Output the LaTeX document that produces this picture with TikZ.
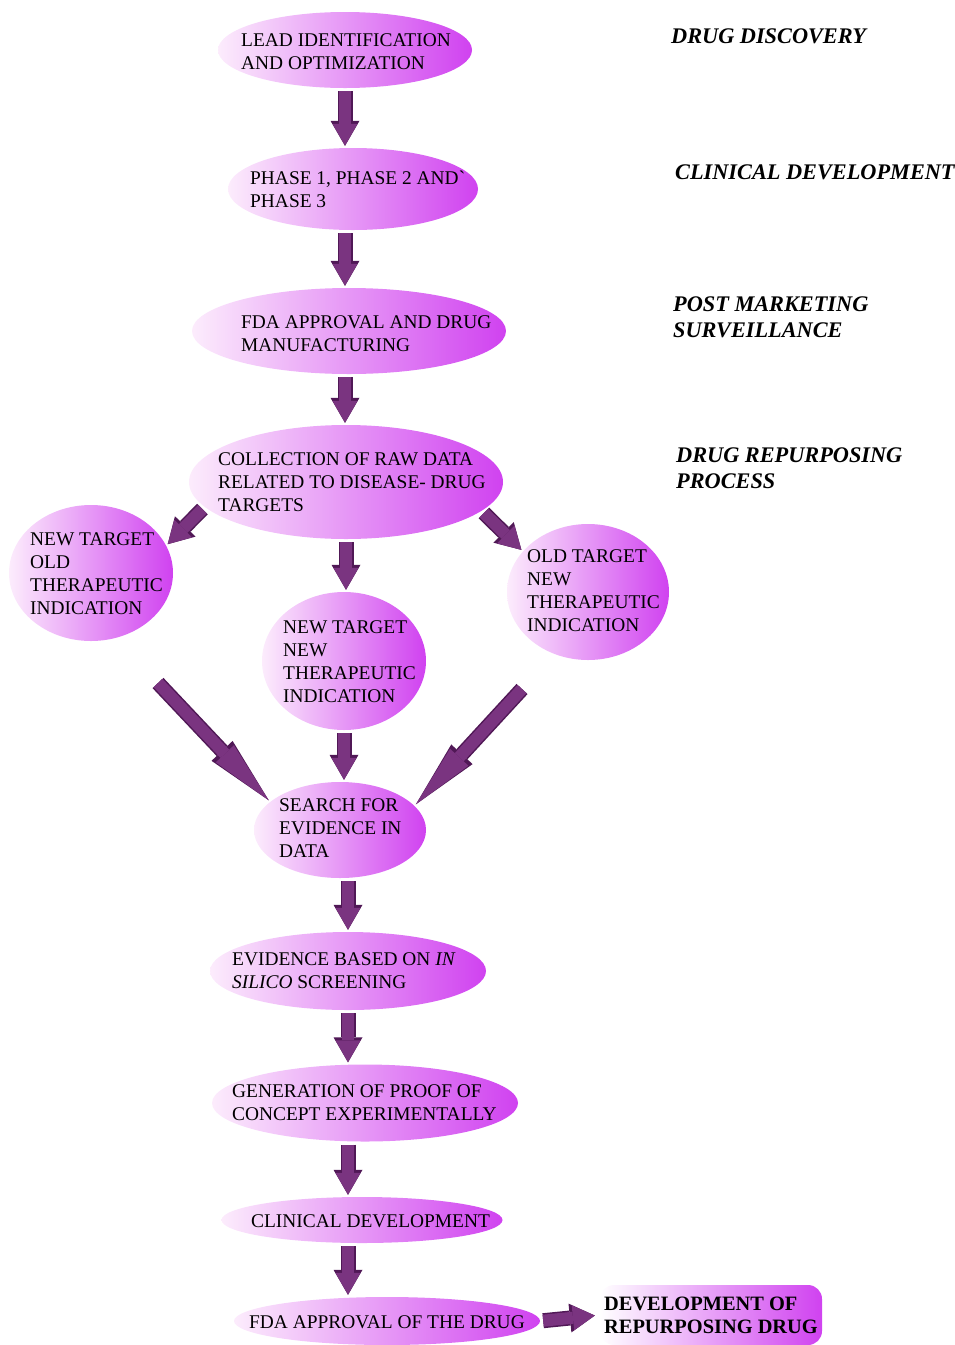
\documentclass[tikz,border=0pt]{standalone}
\usepackage{fontspec}
\setmainfont{Liberation Serif}
\usetikzlibrary{arrows.meta,shapes.geometric}
\definecolor{ovL}{RGB}{252,236,252}
\definecolor{ovR}{RGB}{208,66,240}
\definecolor{arF}{RGB}{122,52,128}
\definecolor{arD}{RGB}{80,24,86}
\begin{document}
\begin{tikzpicture}[x=1pt,y=-1pt,
  oval/.style={ellipse, inner sep=0pt, left color=ovL, right color=ovR, draw=none},
  txt/.style={anchor=west, align=left, inner sep=0pt, font=\fontsize{19.4}{23}\selectfont},
  side/.style={anchor=west, align=left, inner sep=0pt, font=\fontsize{22.3}{26}\selectfont\bfseries\itshape},
  rbox/.style={rectangle, rounded corners=14pt, left color=white, right color=ovR, draw=none,
    minimum width=222pt, minimum height=60pt, inner xsep=3pt, align=left,
    font=\fontsize{20.4}{23}\selectfont\bfseries},
  barrow/.style={line width=12pt, draw=arF, shorten <=3pt, shorten >=2pt,
    -{Triangle[width=25pt,length=22pt,line width=0pt,fill=arF]},
    preaction={draw=arD, line width=15pt, -{Triangle[width=29pt,length=25pt,line width=0pt,fill=arD]}}},
  bigarrow/.style={line width=12pt, draw=arF, shorten <=0pt, shorten >=2pt,
    -{Triangle[width=25pt,length=64pt,line width=0pt,fill=arF]},
    preaction={draw=arD, line width=15pt, -{Triangle[width=29pt,length=68pt,line width=0pt,fill=arD]}}}
]
\useasboundingbox (0,0) rectangle (954,1345);

% ellipses
\node[oval, minimum width=254pt, minimum height=76pt] (lead) at (345,50) {};
\node[oval, minimum width=250pt, minimum height=82pt] (phase) at (353,189) {};
\node[oval, minimum width=314pt, minimum height=86pt] (fda) at (349,331) {};
\node[oval, minimum width=314pt, minimum height=114pt] (coll) at (346,482) {};
\node[oval, minimum width=164pt, minimum height=136pt] (nto) at (91,573) {};
\node[oval, minimum width=162pt, minimum height=136pt] (otn) at (588,592) {};
\node[oval, minimum width=164pt, minimum height=138pt] (ntn) at (344,661) {};
\node[oval, minimum width=172pt, minimum height=96pt] (search) at (340,830) {};
\node[oval, minimum width=276pt, minimum height=78pt] (evid) at (348,971) {};
\node[oval, minimum width=306pt, minimum height=77pt] (gen) at (365,1103) {};
\node[oval, minimum width=281pt, minimum height=46pt] (clin) at (362,1220) {};
\node[oval, minimum width=306pt, minimum height=48pt] (fdad) at (387,1321) {};
\node[rbox] (dev) at (711,1315) {DEVELOPMENT OF\\REPURPOSING DRUG};

% texts
\node[txt] (t1) at (241,52) {LEAD IDENTIFICATION\\AND OPTIMIZATION};
\node[txt] (t2) at (250,189) {PHASE 1, PHASE 2 AND\textasciigrave\\PHASE 3};
\node[txt] (t3) at (241,334) {FDA APPROVAL AND DRUG\\MANUFACTURING};
\node[txt] (t4) at (218,482.5) {COLLECTION OF RAW DATA\\RELATED TO DISEASE- DRUG\\TARGETS};
\node[txt] (t5) at (30,573.5) {NEW TARGET\\OLD\\THERAPEUTIC\\INDICATION};
\node[txt] (t6) at (527,590.5) {OLD TARGET\\NEW\\THERAPEUTIC\\INDICATION};
\node[txt] (t7) at (283,661.5) {NEW TARGET\\NEW\\THERAPEUTIC\\INDICATION};
\node[txt] (t8) at (279,828.5) {SEARCH FOR\\EVIDENCE IN\\DATA};
\node[txt] (t9) at (232,970.5) {EVIDENCE BASED ON \textit{IN}\\\textit{SILICO} SCREENING};
\node[txt] (t10) at (232,1102.5) {GENERATION OF PROOF OF\\CONCEPT EXPERIMENTALLY};
\node[txt] (t11) at (251,1221) {CLINICAL DEVELOPMENT};
\node[txt] (t12) at (249,1322) {FDA APPROVAL OF THE DRUG};

% side labels
\node[side] (s1) at (671,36) {DRUG DISCOVERY};
\node[side] (s2) at (675,172) {CLINICAL DEVELOPMENT};
\node[side] (s3) at (673,317) {POST MARKETING\\SURVEILLANCE};
\node[side] (s4) at (676,468.5) {DRUG REPURPOSING\\PROCESS};

% arrows
\draw[barrow] (lead.south) -- (lead.south |- phase.north);
\draw[barrow] (lead.south |- phase.south) -- (lead.south |- fda.north);
\draw[barrow] (lead.south |- fda.south) -- (lead.south |- coll.north);
\draw[barrow] (coll.south) -- (coll.south |- ntn.north);
\draw[barrow] (coll.190) -- (nto.20);
\draw[barrow] (coll.348.5) -- (otn.148);
\draw[barrow] (ntn.south) -- (ntn.south |- search.north);
\coordinate (a7) at (158,683);
\coordinate (a8) at (522,689);
\draw[bigarrow] (a7) -- (search.158);
\draw[bigarrow] (a8) -- (search.18);
\draw[barrow] (evid.north |- search.south) -- (evid.north);
\draw[barrow] (evid.south) -- (evid.south |- gen.north);
\draw[barrow] (evid.south |- gen.south) -- (evid.south |- clin.north);
\draw[barrow] (evid.south |- clin.south) -- (evid.south |- fdad.north);
\draw[barrow, shorten >=5pt] (fdad.east) -- (dev.west);
\end{tikzpicture}
\end{document}
